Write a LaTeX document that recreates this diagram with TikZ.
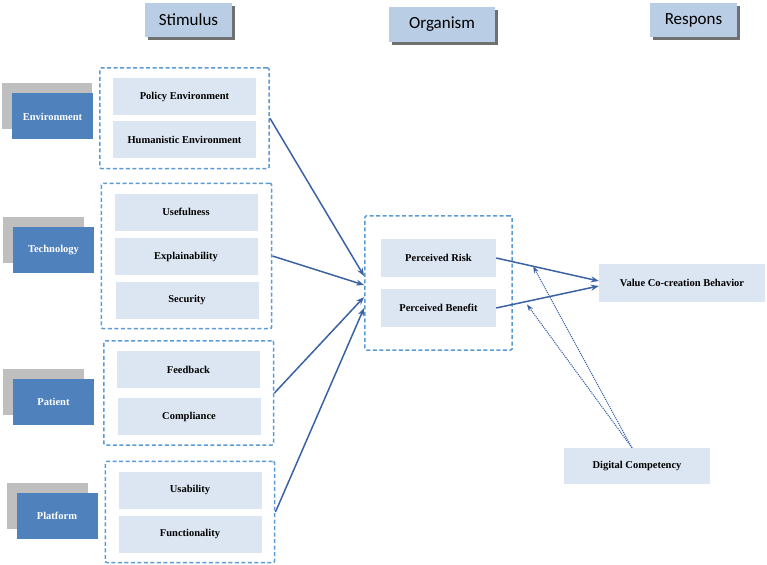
\documentclass[tikz,border=0pt]{standalone}
\usepackage{fontspec}
\setmainfont{Liberation Serif}
\newfontfamily\hdrfont{Carlito}
\usetikzlibrary{arrows.meta,calc,fit,shadows}
\definecolor{hdrBlue}{HTML}{B9CDE5}
\definecolor{hdrShade}{HTML}{707070}
\definecolor{catBlue}{HTML}{4F81BD}
\definecolor{backGrey}{HTML}{BFBFBF}
\definecolor{itemBlue}{HTML}{DCE6F2}
\definecolor{dashBlue}{HTML}{5B9BD5}
\definecolor{lineBlue}{HTML}{3B63A3}

\begin{document}
\begin{tikzpicture}[x=1pt, y=-1pt,
  hdr/.style={fill=hdrBlue, minimum width=87, minimum height=34, inner sep=0pt,
    font=\hdrfont\fontsize{17}{20}\selectfont,
    drop shadow={shadow xshift=3pt, shadow yshift=-3pt, fill=hdrShade, opacity=1}},
  back/.style={fill=backGrey, minimum width=81, minimum height=46},
  cat/.style={fill=catBlue, text=white, minimum width=81, minimum height=46,
    font=\fontsize{10.5}{12}\selectfont\bfseries},
  item/.style={fill=itemBlue, minimum width=143, minimum height=37, inner sep=0pt,
    font=\fontsize{10.5}{12}\selectfont\bfseries},
  group/.style={draw=dashBlue, line width=1.5pt, dash pattern=on 4pt off 2.5pt,
    rounded corners=2pt, inner xsep=13, inner ysep=10},
  link/.style={draw=lineBlue, line width=1.5pt, -{Stealth[length=8pt,width=6pt]}},
  modlink/.style={draw=lineBlue, line width=1.1pt, densely dotted,
    -{Stealth[length=7pt,width=5pt]}}]
  \useasboundingbox (0,0) rectangle (767,564);
  % titles
  \node[hdr] (stim) at (188.5,20) {Stimulus};
  \node[hdr, minimum width=106, minimum height=35] (orgn) at (442,24.5) {Organism};
  \node[hdr] (resp) at (693.5,20) {Respons};
  % stimulus side
  \node[back, minimum width=90] (envback) at (47,106.5) {};
  \node[cat] (env) at (52.5,116.5) {Environment};
  \node[item] (policy) at (184.5,96.5) {Policy Environment};
  \node[item] (human) at (184.5,140) {Humanistic Environment};
  \node[group, fit=(policy)(human)] (envgrp) {};

  \node[back] (techback) at (43.5,240) {};
  \node[cat] (tech) at (53.5,250) {Technology};
  \node[item] (useful) at (186,212) {Usefulness};
  \node[item] (explain) at (186,256.5) {Explainability};
  \node[item] (secur) at (187,300) {Security};
  \node[group, fit=(useful)(explain)(secur)] (techgrp) {};

  \node[back] (patback) at (43.5,391.5) {};
  \node[cat] (pat) at (53.5,401.5) {Patient};
  \node[item] (feedb) at (188.5,369.5) {Feedback};
  \node[item] (compl) at (189,416.5) {Compliance};
  \node[group, fit=(feedb)(compl)] (patgrp) {};

  \node[back] (platback) at (47,505.5) {};
  \node[cat] (plat) at (57,515.5) {Platform};
  \node[item] (usab) at (190,490) {Usability};
  \node[item] (func) at (190,534) {Functionality};
  \node[group, fit=(usab)(func)] (platgrp) {};
  % organism
  \node[item, minimum width=115, minimum height=38] (risk) at (438.5,258) {Perceived Risk};
  \node[item, minimum width=115, minimum height=38] (benefit) at (438.5,308) {Perceived Benefit};
  \node[group, inner xsep=16, inner ysep=23, fit=(risk)(benefit)] (orggrp) {};
  % response and moderator
  \node[item, minimum width=166, minimum height=38] (vcb) at (682,283) {Value Co-creation Behavior};
  \node[item, minimum width=146, minimum height=36] (digi) at (637,466) {Digital Competency};
  % paths
  \draw[link] (envgrp.east) -- ($(orggrp.west)+(0,-7)$);
  \draw[link] (techgrp.east) -- ($(orggrp.west)+(0,2)$);
  \draw[link] (patgrp.east) -- ($(orggrp.west)+(0,14)$);
  \draw[link] (platgrp.east) -- ($(orggrp.west)+(0,25)$);
  \draw[link] (risk.east) -- ([yshift=2pt]vcb.west);
  \draw[link] (benefit.east) -- ([yshift=-3pt]vcb.west);
  \coordinate (riskmod) at ($(risk.east)!0.36!([yshift=2pt]vcb.west)$);
  \coordinate (benmod) at ($($(benefit.east)!0.3!([yshift=-3pt]vcb.west)$)+(0,3)$);
  \draw[modlink] ([xshift=-5pt]digi.north) -- (riskmod);
  \draw[modlink] ([xshift=-5pt]digi.north) -- (benmod);
\end{tikzpicture}
\end{document}
